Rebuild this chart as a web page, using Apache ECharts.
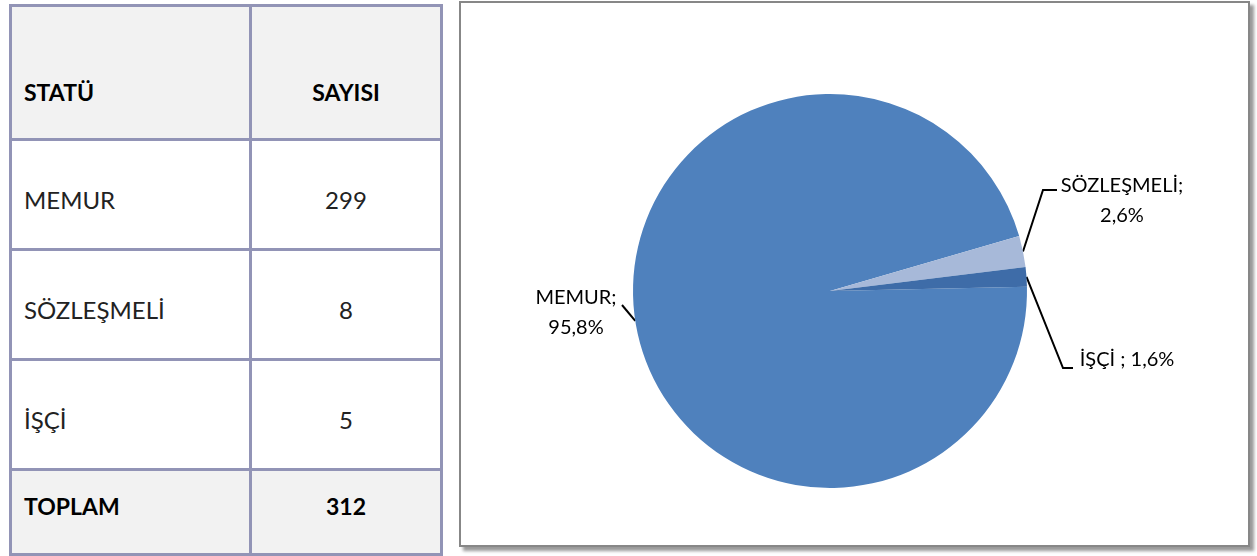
<!DOCTYPE html>
<html>
<head>
<meta charset="utf-8">
<script src="https://cdn.jsdelivr.net/npm/echarts@6/dist/echarts.min.js"></script>
<style>
body{margin:0;width:1257px;height:556px;background:#fff;font-family:Lato,"Open Sans",sans-serif;position:relative;overflow:hidden}
.tbl{position:absolute;left:9px;top:4px;border-collapse:collapse;border:3px solid #9294b6;table-layout:fixed;width:431px}
.tbl td{border:3px solid #9294b6;font-size:24px;color:#222;padding:0;box-sizing:border-box}
.tbl td.c1{padding-left:12px}
.tbl td.c2{text-align:center}
.tbl tr.head td,.tbl tr.foot td{background:#f2f2f2;font-weight:bold;color:#000;font-size:23px}
.tbl tr.head td{height:134px;padding-top:38px}
.tbl tr.row td{height:110px;padding-top:10px}
.tbl tr.foot td{height:85px;padding-bottom:12px}
#chart{position:absolute;left:459px;top:1px;width:791px;height:546px;box-sizing:border-box;border:2px solid #878787;box-shadow:4px 4px 3px #9a9a9a;background:#fff}
</style>
</head>
<body>
<table class="tbl" id="tbl"><colgroup><col style="width:240px"><col style="width:191px"></colgroup><tbody id="tbody"></tbody></table>
<div id="chart"></div>
<script>
// table + pie data
const headers=["STATÜ","SAYISI"];
const categories=["MEMUR","SÖZLEŞMELİ","İŞÇİ"];
const counts=[299,8,5];
const totalLabel="TOPLAM";
const pieLabels=["MEMUR","SÖZLEŞMELİ","İŞÇİ "];
const colors=["#4f81bd","#a7b9d9","#3e6ca8"];

const total=counts.reduce((a,b)=>a+b,0);

// build table
let html='<tr class="head"><td class="c1">'+headers[0]+'</td><td class="c2">'+headers[1]+'</td></tr>';
categories.forEach((c,i)=>{
    html+='<tr class="row"><td class="c1">'+c+'</td><td class="c2">'+counts[i]+'</td></tr>';
});
html+='<tr class="foot"><td class="c1">'+totalLabel+'</td><td class="c2">'+total+'</td></tr>';
document.getElementById("tbody").innerHTML=html;

// label positions (chart px) for each slice, tuned by eye
const labelPos=[
    {x:115,y:310,line:[[161,302]]},
    {x:661,y:198,line:[[582,187],[596,187]]},
    {x:666,y:357,line:[[602,365],[612,365]]}
];

const chart=echarts.init(document.getElementById("chart"));
chart.setOption({
    animation:false,
    series:[{
        type:"pie",
        center:[369,288],
        radius:197,
        startAngle:1.2,
        clockwise:true,
        data:categories.map((c,i)=>({
            name:pieLabels[i],
            value:counts[i],
            itemStyle:{color:colors[i]}
        })),
        itemStyle:{borderWidth:0},
        label:{
            show:true,
            position:"outside",
            fontFamily:"Lato, 'Open Sans', sans-serif",
            fontSize:20,
            color:"#000",
            lineHeight:30,
            align:"center",
            formatter:function(p){
                const pct=(p.value/total*100).toFixed(1).replace(".",",")+"%";
                return p.dataIndex==2 ? p.name+"; "+pct : p.name+";\n"+pct;
            }
        },
        labelLine:{
            show:true,
            length:10,
            length2:10,
            lineStyle:{color:"#000",width:2}
        },
        labelLayout:function(params){
            const lp=labelPos[params.dataIndex];
            const pts=params.labelLinePoints;
            const start=pts?pts[0]:[0,0];
            return {
                x:lp.x,
                y:lp.y,
                align:"center",
                verticalAlign:"middle",
                labelLinePoints:[start].concat(lp.line)
            };
        },
        emphasis:{disabled:true}
    }]
});
</script>
</body>
</html>
